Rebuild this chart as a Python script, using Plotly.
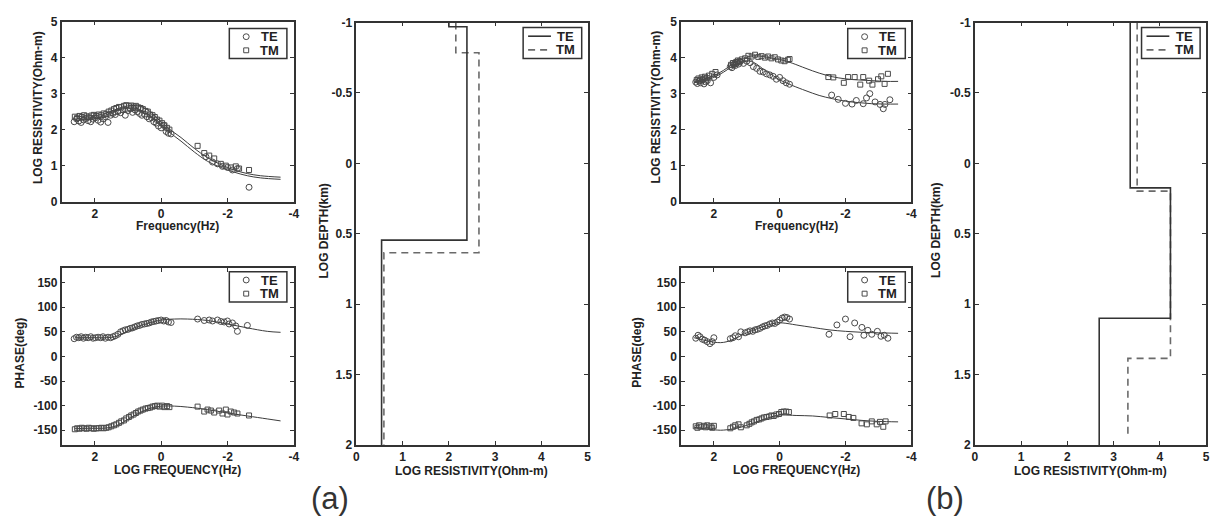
import plotly.graph_objects as go

W, H = 1221, 525

# ---------------- Panel (a) : apparent resistivity ----------------
fa_te = [2.62, 2.55, 2.48, 2.41, 2.34, 2.27, 2.2, 2.12, 2.05, 1.98, 1.9, 1.82, 1.75, 1.68, 1.6, 1.52, 1.45,
         1.38, 1.3, 1.22, 1.15, 1.08, 1.0, 0.93, 0.86, 0.79, 0.72, 0.65, 0.58, 0.5, 0.43, 0.36, 0.29, 0.22,
         0.15, 0.08, 0.0, -0.08, -0.15, -0.22, -0.3, -1.35, -1.55, -1.7, -1.85, -2.0, -2.15, -2.3, -2.65]
ra_te = [2.22, 2.30, 2.24, 2.20, 2.27, 2.31, 2.25, 2.22, 2.29, 2.33, 2.26, 2.21, 2.30, 2.36, 2.20, 2.40, 2.45,
         2.42, 2.50, 2.47, 2.55, 2.40, 2.53, 2.58, 2.48, 2.55, 2.50, 2.45, 2.40, 2.43, 2.36, 2.30, 2.33, 2.22,
         2.18, 2.10, 2.05, 2.12, 1.95, 1.90, 1.88, 1.25, 1.10, 1.05, 0.98, 0.95, 0.88, 0.92, 0.40]
fa_tm = [2.6, 2.53, 2.46, 2.39, 2.32, 2.25, 2.18, 2.1, 2.03, 1.95, 1.88, 1.8, 1.73, 1.65, 1.58, 1.5, 1.42, 1.35,
         1.27, 1.2, 1.12, 1.05, 0.97, 0.9, 0.83, 0.76, 0.69, 0.62, 0.55, 0.47, 0.4, 0.33, 0.26, 0.19, 0.12, 0.05,
         -0.03, -0.1, -0.18, -0.25, -1.1, -1.3, -1.45, -1.6, -1.8, -1.95, -2.1, -2.25, -2.35, -2.65]
ra_tm = [2.36, 2.33, 2.38, 2.35, 2.40, 2.37, 2.34, 2.39, 2.41, 2.38, 2.42, 2.40, 2.45, 2.44, 2.50, 2.53, 2.57,
         2.60, 2.63, 2.62, 2.66, 2.68, 2.65, 2.67, 2.64, 2.66, 2.62, 2.60, 2.57, 2.52, 2.50, 2.42, 2.40, 2.35,
         2.28, 2.25, 2.18, 2.12, 2.05, 2.00, 1.55, 1.35, 1.28, 1.20, 1.05, 1.00, 0.95, 0.98, 0.92, 0.88]
fa_mod = [2.6, 2.2, 1.8, 1.4, 1.0, 0.7, 0.4, 0.1, -0.2, -0.6, -1.0, -1.4, -1.8, -2.2, -2.6, -3.0, -3.6]
ra_mod_tm = [2.36, 2.38, 2.42, 2.55, 2.66, 2.66, 2.55, 2.30, 2.05, 1.78, 1.48, 1.22, 1.03, 0.88, 0.78, 0.72, 0.68]
ra_mod_te = [2.26, 2.28, 2.32, 2.42, 2.52, 2.52, 2.42, 2.20, 1.96, 1.68, 1.38, 1.12, 0.95, 0.82, 0.72, 0.66, 0.62]

# ---------------- Panel (a) : phase ----------------
fpa_te = [2.62, 2.55, 2.48, 2.41, 2.34, 2.27, 2.2, 2.12, 2.05, 1.98, 1.9, 1.82, 1.75, 1.68, 1.6, 1.52, 1.45,
          1.38, 1.3, 1.22, 1.15, 1.08, 1.0, 0.93, 0.86, 0.79, 0.72, 0.65, 0.58, 0.5, 0.43, 0.36, 0.29, 0.22,
          0.15, 0.08, 0.0, -0.08, -0.15, -0.22, -0.3,
          -1.1, -1.3, -1.45, -1.55, -1.7, -1.8, -1.9, -2.0, -2.05, -2.15, -2.25, -2.3, -2.6]
pa_te = [36, 39, 38, 40, 37, 39, 38, 40, 37, 38, 39, 38, 40, 37, 39, 38, 40, 42, 45, 50, 52, 54, 55, 57, 58,
         60, 62, 63, 65, 66, 67, 68, 70, 71, 72, 73, 74, 72, 73, 70, 69,
         76, 73, 74, 72, 74, 71, 70, 72, 66, 68, 62, 51, 63]
fpa_tm = [2.6, 2.53, 2.46, 2.39, 2.32, 2.25, 2.18, 2.1, 2.03, 1.95, 1.88, 1.8, 1.73, 1.65, 1.58, 1.5, 1.42, 1.35,
          1.27, 1.2, 1.12, 1.05, 0.97, 0.9, 0.83, 0.76, 0.69, 0.62, 0.55, 0.47, 0.4, 0.33, 0.26, 0.19, 0.12, 0.05,
          -0.03, -0.1, -0.18, -0.25,
          -1.1, -1.3, -1.4, -1.5, -1.6, -1.75, -1.85, -1.95, -2.0, -2.1, -2.2, -2.3, -2.65]
pa_tm = [-148, -146, -147, -145, -146, -147, -145, -146, -147, -146, -146, -145, -146, -145, -144, -142, -140,
         -138, -135, -132, -130, -126, -123, -120, -118, -115, -112, -110, -108, -106, -105, -104, -102, -101,
         -100, -102, -100, -103, -101, -103,
         -102, -112, -108, -110, -114, -110, -116, -108, -118, -112, -114, -116, -120]
fpa_mod = [2.6, 2.2, 1.8, 1.6, 1.4, 1.2, 1.0, 0.8, 0.6, 0.4, 0.2, 0.0, -0.4, -0.8, -1.4, -2.0, -2.6, -3.2, -3.6]
pa_mod_te = [38, 38, 38, 38, 40, 45, 52, 58, 63, 67, 71, 74, 76, 76, 73, 66, 58, 51, 49]
pa_mod_tm = [-147, -146, -146, -145, -142, -136, -128, -120, -113, -107, -103, -101, -101, -103, -108, -115,
             -121, -127, -131]

# ---------------- Panel (a) : 1-D models ----------------
da_te_rho = [2.0, 2.0, 2.39, 2.39, 0.545, 0.545]
da_te_dep = [-1.0, -0.97, -0.97, 0.545, 0.545, 2.0]
da_tm_rho = [2.15, 2.15, 2.65, 2.65, 0.595, 0.595]
da_tm_dep = [-1.0, -0.786, -0.786, 0.635, 0.635, 2.0]

# ---------------- Panel (b) : apparent resistivity ----------------
fb_te = [2.55, 2.5, 2.45, 2.4, 2.35, 2.3, 2.25, 2.2, 2.1, 2.0, 1.9, 1.5, 1.45, 1.4, 1.35, 1.3, 1.25, 1.2, 1.1,
         1.0, 0.9, 0.8, 0.7, 0.6, 0.5, 0.4, 0.3, 0.2, 0.1, 0.0, -0.1, -0.2, -0.3,
         -1.58, -1.78, -2.0, -2.2, -2.33, -2.54, -2.64, -2.74, -2.9, -3.05, -3.15, -3.2, -3.35]
rb_te = [3.32, 3.28, 3.35, 3.30, 3.38, 3.27, 3.33, 3.36, 3.30, 3.45, 3.52, 3.75, 3.72, 3.80, 3.78, 3.85, 3.82,
         3.88, 3.84, 3.90, 3.86, 3.75, 3.70, 3.62, 3.60, 3.55, 3.52, 3.48, 3.40, 3.45, 3.36, 3.30, 3.26,
         2.96, 2.84, 2.73, 2.71, 2.81, 2.72, 2.88, 3.0, 2.77, 2.7, 2.58, 2.7, 2.83]
fb_tm = [2.52, 2.47, 2.42, 2.37, 2.32, 2.27, 2.22, 2.15, 2.05, 1.95, 1.48, 1.42, 1.37, 1.32, 1.27, 1.22, 1.15,
         1.05, 0.95, 0.85, 0.75, 0.65, 0.55, 0.45, 0.35, 0.25, 0.15, 0.05, -0.05, -0.15, -0.25, -0.3,
         -1.48, -1.63, -1.95, -2.08, -2.28, -2.45, -2.54, -2.72, -2.82, -2.99, -3.09, -3.19, -3.29]
rb_tm = [3.38, 3.42, 3.36, 3.45, 3.40, 3.47, 3.43, 3.50, 3.55, 3.60, 3.80, 3.85, 3.82, 3.88, 3.92, 3.90, 3.95,
         3.98, 4.05, 4.03, 4.08, 4.02, 4.04, 4.00, 4.03, 3.98, 4.01, 3.95, 3.92, 3.90, 3.94, 3.96,
         3.46, 3.45, 3.30, 3.46, 3.46, 3.25, 3.46, 3.36, 3.25, 3.40, 3.48, 3.27, 3.55]
fb_mod = [2.6, 2.3, 2.0, 1.7, 1.5, 1.3, 1.1, 0.9, 0.7, 0.5, 0.2, 0.0, -0.2, -0.4, -0.8, -1.2, -1.6, -2.0, -2.4,
          -2.8, -3.2, -3.6]
rb_mod_te = [3.30, 3.36, 3.45, 3.60, 3.72, 3.82, 3.88, 3.90, 3.82, 3.68, 3.50, 3.38, 3.30, 3.22, 3.08, 2.95,
             2.86, 2.79, 2.75, 2.72, 2.71, 2.71]
rb_mod_tm = [3.32, 3.40, 3.50, 3.65, 3.78, 3.90, 3.97, 4.04, 4.05, 4.03, 3.98, 3.95, 3.90, 3.84, 3.70, 3.57,
             3.47, 3.41, 3.38, 3.36, 3.34, 3.34]

# ---------------- Panel (b) : phase ----------------
fpb_te = [2.55, 2.48, 2.42, 2.35, 2.28, 2.2, 2.12, 2.05, 2.0, 1.5, 1.42, 1.35, 1.25, 1.18, 1.05, 0.97, 0.9, 0.82,
          0.75, 0.68, 0.6, 0.52, 0.45, 0.38, 0.3, 0.22, 0.15, 0.08, 0.0, -0.08, -0.15, -0.22, -0.3,
          -1.5, -1.74, -2.0, -2.14, -2.28, -2.5, -2.56, -2.68, -2.8, -2.97, -3.08, -3.18, -3.29]
pb_te = [37, 43, 40, 35, 33, 30, 26, 30, 38, 36, 38, 42, 40, 50, 48, 50, 52, 51, 54, 55, 57, 60, 62, 63, 66,
         68, 67, 70, 74, 78, 80, 79, 76,
         45, 64, 76, 40, 68, 59, 43, 53, 45, 51, 41, 43, 37]
fpb_tm = [2.55, 2.5, 2.45, 2.4, 2.3, 2.25, 2.2, 2.1, 2.05, 2.0, 1.5, 1.42, 1.35, 1.25, 1.18, 1.0, 0.92, 0.85,
          0.78, 0.7, 0.62, 0.55, 0.48, 0.4, 0.32, 0.25, 0.18, 0.1, 0.02, -0.05, -0.12, -0.2, -0.28,
          -1.52, -1.69, -1.95, -2.1, -2.24, -2.49, -2.65, -2.8, -2.95, -3.05, -3.15, -3.22]
pb_tm = [-142, -145, -140, -143, -141, -144, -140, -142, -145, -141, -146, -143, -140, -138, -144, -140, -137,
         -134, -132, -129, -128, -126, -124, -123, -122, -120, -121, -118, -117, -113, -112, -112, -113,
         -120, -117, -117, -123, -125, -136, -138, -132, -138, -133, -143, -132]
fpb_mod = [2.6, 2.3, 2.0, 1.8, 1.6, 1.3, 1.0, 0.7, 0.4, 0.1, -0.1, -0.5, -1.0, -1.5, -2.0, -2.5, -3.0, -3.6]
pb_mod_te = [38, 33, 29, 28, 30, 38, 48, 56, 63, 68, 68, 64, 59, 54, 51, 49, 48, 47]
pb_mod_tm = [-144, -147, -149, -150, -149, -146, -140, -133, -126, -120, -119, -120, -121, -124, -127, -130,
             -132, -133]

# ---------------- Panel (b) : 1-D models ----------------
db_te_rho = [3.36, 3.36, 4.23, 4.23, 2.69, 2.69]
db_te_dep = [-1.0, 0.174, 0.174, 1.10, 1.10, 2.0]
db_tm_rho = [3.51, 3.51, 4.23, 4.23, 3.31, 3.31]
db_tm_dep = [-1.0, 0.197, 0.197, 1.385, 1.385, 1.94]

# ---------------- tick labels ----------------
freq_ticks = [2, 0, -2, -4]
freq_ticktext = ["2", "0", "-2", "-4"]
rho_ticks = [0, 1, 2, 3, 4, 5]
rho_ticktext = ["0", "1", "2", "3", "4", "5"]
phase_ticks = [-150, -100, -50, 0, 50, 100, 150]
phase_ticktext = ["-150", "-100", "-50", "0", "50", "100", "150"]
depth_ticks = [-1, -0.5, 0, 0.5, 1, 1.5, 2]
depth_ticktext = ["-1", "-0.5", "0", "0.5", "1", "1.5", "2"]
legend_names = ["TE", "TM"]

# ---------------- styling ----------------
FONT = "Liberation Sans, Arial, sans-serif"
AX = "#333333"
DATA = "#4a4a4a"
CURVE = "#3c3c3c"
TE_LINE = dict(color="#333333", width=1.6)
TM_LINE = dict(color="#6a6a6a", width=1.6, dash="7px,5px")

fig = go.Figure()


def marker_trace(x, y, sym, name, xa, ya, size):
    return go.Scatter(x=x, y=y, mode="markers", name=name, xaxis=xa, yaxis=ya, showlegend=False,
                      marker=dict(symbol=sym, size=size, color=DATA, line=dict(width=1, color=DATA)))


def curve_trace(x, y, xa, ya):
    return go.Scatter(x=x, y=y, mode="lines", xaxis=xa, yaxis=ya, showlegend=False,
                      line=dict(color=CURVE, width=1, shape="spline"), hoverinfo="skip")


def depth_traces(te_r, te_d, tm_r, tm_d, xa, ya):
    return [
        go.Scatter(x=tm_r, y=tm_d, mode="lines", name="TM", xaxis=xa, yaxis=ya, showlegend=False,
                   line=TM_LINE),
        go.Scatter(x=te_r, y=te_d, mode="lines", name="TE", xaxis=xa, yaxis=ya, showlegend=False,
                   line=TE_LINE),
    ]


# panel a rho
fig.add_trace(curve_trace(fa_mod, ra_mod_tm, "x", "y"))
fig.add_trace(curve_trace(fa_mod, ra_mod_te, "x", "y"))
fig.add_trace(marker_trace(fa_te, ra_te, "circle-open", "TE", "x", "y", 6))
fig.add_trace(marker_trace(fa_tm, ra_tm, "square-open", "TM", "x", "y", 5))
# panel a phase
fig.add_trace(curve_trace(fpa_mod, pa_mod_te, "x2", "y2"))
fig.add_trace(curve_trace(fpa_mod, pa_mod_tm, "x2", "y2"))
fig.add_trace(marker_trace(fpa_te, pa_te, "circle-open", "TE", "x2", "y2", 6))
fig.add_trace(marker_trace(fpa_tm, pa_tm, "square-open", "TM", "x2", "y2", 5))
# panel a depth
for t in depth_traces(da_te_rho, da_te_dep, da_tm_rho, da_tm_dep, "x3", "y3"):
    fig.add_trace(t)
# panel b rho
fig.add_trace(curve_trace(fb_mod, rb_mod_tm, "x4", "y4"))
fig.add_trace(curve_trace(fb_mod, rb_mod_te, "x4", "y4"))
fig.add_trace(marker_trace(fb_te, rb_te, "circle-open", "TE", "x4", "y4", 6))
fig.add_trace(marker_trace(fb_tm, rb_tm, "square-open", "TM", "x4", "y4", 5))
# panel b phase
fig.add_trace(curve_trace(fpb_mod, pb_mod_te, "x5", "y5"))
fig.add_trace(curve_trace(fpb_mod, pb_mod_tm, "x5", "y5"))
fig.add_trace(marker_trace(fpb_te, pb_te, "circle-open", "TE", "x5", "y5", 6))
fig.add_trace(marker_trace(fpb_tm, pb_tm, "square-open", "TM", "x5", "y5", 5))
# panel b depth
for t in depth_traces(db_te_rho, db_te_dep, db_tm_rho, db_tm_dep, "x6", "y6"):
    fig.add_trace(t)


def px_x(p):
    return p / W


def px_y(p):
    return 1 - p / H


def axis(domain, anchor, rng, tickvals, ticktext):
    return dict(domain=domain, anchor=anchor, range=rng, tickvals=tickvals, ticktext=ticktext,
                showline=True, linecolor=AX, linewidth=1.5, mirror="allticks", ticks="inside",
                ticklen=4, tickwidth=1, tickcolor=AX, showgrid=False, zeroline=False,
                tickfont=dict(family=FONT, size=12, color="#222", weight="bold"), fixedrange=True)


xa_dom = [px_x(59), px_x(293)]
xda_dom = [px_x(356), px_x(589)]
xb_dom = [px_x(683), px_x(915)]
xdb_dom = [px_x(979), px_x(1212)]
yr_dom = [px_y(200), px_y(15)]
yp_dom = [px_y(450), px_y(268)]
yd_dom = [px_y(450), px_y(16)]

fig.update_layout(
    width=W, height=H, margin=dict(l=0, r=0, t=0, b=0), paper_bgcolor="white", plot_bgcolor="white",
    showlegend=False,
    xaxis=axis(xa_dom, "y", [3, -4], freq_ticks, freq_ticktext),
    yaxis=axis(yr_dom, "x", [0, 5], rho_ticks, rho_ticktext),
    xaxis2=axis(xa_dom, "y2", [3, -4], freq_ticks, freq_ticktext),
    yaxis2=axis(yp_dom, "x2", [-180, 180], phase_ticks, phase_ticktext),
    xaxis3=axis(xda_dom, "y3", [0, 5], rho_ticks, rho_ticktext),
    yaxis3=axis(yd_dom, "x3", [2, -1], depth_ticks, depth_ticktext),
    xaxis4=axis(xb_dom, "y4", [3, -4], freq_ticks, freq_ticktext),
    yaxis4=axis(yr_dom, "x4", [0, 5], rho_ticks, rho_ticktext),
    xaxis5=axis(xb_dom, "y5", [3, -4], freq_ticks, freq_ticktext),
    yaxis5=axis(yp_dom, "x5", [-180, 180], phase_ticks, phase_ticktext),
    xaxis6=axis(xdb_dom, "y6", [0, 5], rho_ticks, rho_ticktext),
    yaxis6=axis(yd_dom, "x6", [2, -1], depth_ticks, depth_ticktext),
)

tfont = dict(family=FONT, size=12, color="#222", weight="bold")
lfont = dict(family=FONT, size=13, color="#222", weight="bold")
ann = []
shapes = []


def add_text(text, xpx, ypx, angle=0, font=tfont):
    ann.append(dict(text=text, x=px_x(xpx), y=px_y(ypx), xref="paper", yref="paper", showarrow=False,
                    xanchor="center", yanchor="middle", textangle=angle, font=font, borderpad=0))


def box(x0, y0, x1, y1):
    shapes.append(dict(type="rect", xref="paper", yref="paper", x0=px_x(x0), x1=px_x(x1),
                       y0=px_y(y1), y1=px_y(y0), line=dict(color=AX, width=1.5), fillcolor="white"))


def marker_legend(left, top):
    box(left, top, left + 58, top + 31)
    rows = [top + 8.5, top + 22.5]
    c = left + 17
    r = 3
    shapes.append(dict(type="circle", xref="paper", yref="paper", x0=px_x(c - r), x1=px_x(c + r),
                       y0=px_y(rows[0] + r), y1=px_y(rows[0] - r), line=dict(color=DATA, width=1)))
    s = 2.5
    shapes.append(dict(type="rect", xref="paper", yref="paper", x0=px_x(c - s), x1=px_x(c + s),
                       y0=px_y(rows[1] + s), y1=px_y(rows[1] - s), line=dict(color=DATA, width=1)))
    for name, ry in zip(legend_names, rows):
        add_text(name, left + 40, ry, 0, lfont)


def line_legend(left, top):
    box(left, top, left + 59, top + 32)
    rows = [top + 9, top + 23]
    for i, (name, ry) in enumerate(zip(legend_names, rows)):
        ln = TE_LINE if i == 0 else TM_LINE
        shapes.append(dict(type="line", xref="paper", yref="paper", x0=px_x(left + 5), x1=px_x(left + 28),
                           y0=px_y(ry), y1=px_y(ry), line=ln))
        add_text(name, left + 43, ry, 0, lfont)


marker_legend(228, 22)
marker_legend(228, 272)
marker_legend(851, 22)
marker_legend(851, 272)
line_legend(524, 21)
line_legend(1147, 21)

add_text("LOG RESISTIVITY(Ohm-m)", 36, 103, -90)
add_text("Frequency(Hz)", 176, 225)
add_text("PHASE(deg)", 17, 355, -90)
add_text("LOG FREQUENCY(Hz)", 176, 476)
add_text("LOG DEPTH(km)", 323, 230, -90)
add_text("LOG RESISTIVITY(Ohm-m)", 472, 477)
add_text("LOG RESISTIVITY(Ohm-m)", 658, 103, -90)
add_text("Frequency(Hz)", 799, 225)
add_text("PHASE(deg)", 638, 355, -90)
add_text("LOG FREQUENCY(Hz)", 799, 476)
add_text("LOG DEPTH(km)", 940, 230, -90)
add_text("LOG RESISTIVITY(Ohm-m)", 1096, 477)
big = dict(family=FONT, size=31, color="#333")
add_text("(a)", 329, 505, 0, big)
add_text("(b)", 949, 505, 0, big)

fig.update_layout(annotations=ann, shapes=shapes)
fig.write_html("out.html")
